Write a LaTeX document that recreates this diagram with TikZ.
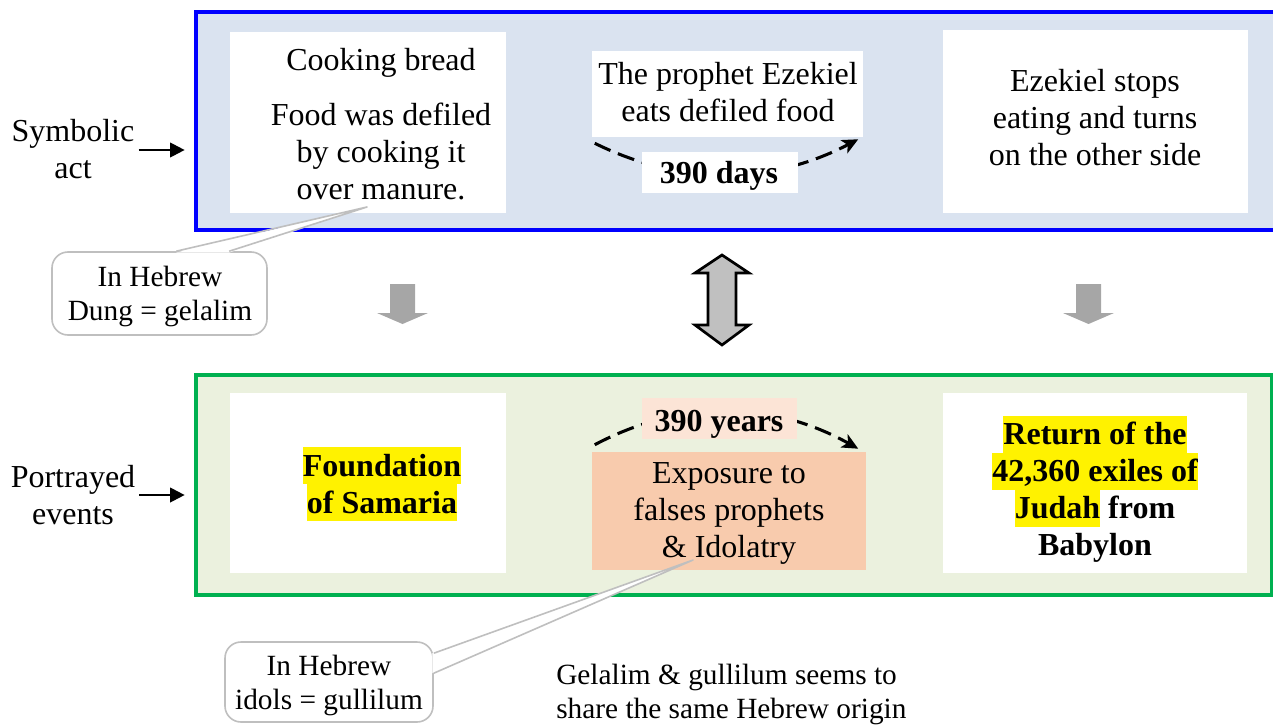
\documentclass[tikz,border=0pt]{standalone}
\usepackage{fontspec}
\setmainfont{Liberation Serif}
\usetikzlibrary{arrows.meta,calc}
\definecolor{bluefill}{HTML}{DAE3F0}
\definecolor{blueline}{HTML}{0000FF}
\definecolor{greenfill}{HTML}{EBF1DE}
\definecolor{greenline}{HTML}{00B050}
\definecolor{peach}{HTML}{F8CBAD}
\definecolor{lightpeach}{HTML}{FCE4D6}
\definecolor{arrowgray}{HTML}{A6A6A6}
\definecolor{dblgray}{HTML}{C0C0C0}
\definecolor{calloutgray}{HTML}{BFBFBF}
\newcommand\hlt[1]{{\setlength\fboxsep{0pt}\colorbox{yellow}{\rule[-6pt]{0pt}{27.75pt}#1}}}
\begin{document}
\begin{tikzpicture}[x=0.75pt,y=-0.75pt,
  bigtext/.style={font=\fontsize{24}{27.75}\selectfont, align=center, inner sep=0pt},
  smalltext/.style={font=\fontsize{22}{25.5}\selectfont, align=center, inner sep=0pt},
  panelbox/.style={draw, line width=3pt, inner sep=0pt},
  whitebox/.style={fill=white, inner sep=0pt},
  calloutbox/.style={draw=calloutgray, line width=1.2pt, fill=white, rounded corners=12pt, inner sep=0pt},
  calloutline/.style={draw=calloutgray, line width=1.2pt, line join=round},
  dasharrow/.style={line width=2.3pt, dash pattern=on 13pt off 6pt, -{Stealth[length=12pt,width=11pt,inset=3pt]}},
  labelarrow/.style={line width=1.6pt, -{Triangle[length=11pt,width=11pt]}},
  blockarrow/.style={fill=arrowgray},
  dblarrow/.style={fill=dblgray, draw=black, line width=2pt, line join=miter}]
\useasboundingbox (0,0) rectangle (1273,724);
\clip (0,0) rectangle (1273,724);

% panels
\node[panelbox, draw=blueline, fill=bluefill, minimum width=820.5pt, minimum height=163.5pt] (blue) at (743,121) {};
\node[panelbox, draw=greenline, fill=greenfill, minimum width=807pt, minimum height=165pt] (green) at (734,485) {};

% top boxes
\node[whitebox, minimum width=207pt, minimum height=135.75pt] (b1) at (368,122.5) {};
\node[whitebox, minimum width=203.25pt, minimum height=64.5pt] (b2) at (727.5,94) {};
\node[whitebox, minimum width=228.75pt, minimum height=137.25pt] (b3) at (1095.5,121.5) {};

% bottom boxes
\node[whitebox, minimum width=207pt, minimum height=135pt] (b4) at (368,483) {};
\node[fill=peach, inner sep=0pt, minimum width=205.5pt, minimum height=88.5pt] (b5) at (729,511) {};
\node[whitebox, minimum width=228pt, minimum height=135pt] (b6) at (1095,483) {};

% dashed arcs
\draw[dasharrow] ($(b2.south west)+(3,6)$) .. controls +(85,42) and +(-88,46) .. ($(b2.south east)+(-5,2)$);
\draw[dasharrow] ($(b5.north west)+(3,-7)$) .. controls +(85,-45) and +(-88,-49) .. ($(b5.north east)+(-8,-3)$);

% duration labels
\node[whitebox, minimum width=117pt, minimum height=30.75pt] (days) at (720,172.5) {};
\node[bigtext, font=\fontsize{24}{27.75}\selectfont\bfseries] (daystext) at (719,176) {390 days};
\node[fill=lightpeach, inner sep=0pt, minimum width=116.25pt, minimum height=30.75pt] (years) at (719.5,418.5) {};
\node[bigtext, font=\fontsize{24}{27.75}\selectfont\bfseries] (yearstext) at (719,424) {390 years};

% texts in top boxes
\node[bigtext] (t1a) at (381,63) {Cooking bread};
\node[bigtext] (t1b) at (381,151) {Food was defiled\\by cooking it\\over manure.};
\node[bigtext] (t2) at (728,92) {The prophet Ezekiel\\eats defiled food};
\node[bigtext] (t3) at (1095,118) {Ezekiel stops\\eating and turns\\on the other side};

% texts in bottom boxes
\node[bigtext, font=\fontsize{24}{27.75}\selectfont\bfseries] (t4) at (382,484) {\hlt{Foundation}\\\hlt{of Samaria}};
\node[bigtext] (t5) at (729,513) {Exposure to\\falses prophets\\\& Idolatry};
\node[bigtext, font=\fontsize{24}{27.75}\selectfont\bfseries] (t6) at (1095,489) {\hlt{Return of the}\\\hlt{42,360 exiles of}\\\hlt{Judah} from\\Babylon};

% side labels
\node[bigtext] (sym) at (73,149) {Symbolic\\act};
\node[bigtext] (por) at (73,495) {Portrayed\\events};
\draw[labelarrow] ([xshift=3pt]sym.east |- 0,150) -- ([xshift=-7pt]blue.west |- 0,150);
\draw[labelarrow] ([xshift=3pt]por.east |- 0,495) -- ([xshift=-7pt]green.west |- 0,495);

% gray down arrows
\fill[blockarrow] (390,284) -- (415,284) -- (415,313) -- (428,313) -- (402.5,324) -- (377,313) -- (390,313) -- cycle;
\fill[blockarrow] (1076,284) -- (1101,284) -- (1101,313) -- (1114,313) -- (1088.5,324) -- (1063,313) -- (1076,313) -- cycle;

% double arrow
\draw[dblarrow] (722,255) -- (749,273) -- (736,273) -- (736,325) -- (749,325) -- (722,345) -- (695,325) -- (708,325) -- (708,273) -- (695,273) -- cycle;

% callout 1
\node[calloutbox, minimum width=161.25pt, minimum height=62.25pt] (c1) at (159.5,293.5) {};
\coordinate (c1a) at ($(c1.north west)+(125,0)$);
\coordinate (c1b) at ($(c1.north west)+(178,0)$);
\coordinate (c1tip) at (367,207);
\fill[white] ([yshift=-1pt]c1a) -- (c1tip) -- ([yshift=-1pt]c1b) -- cycle;
\draw[calloutline] (c1a) -- (c1tip) -- (c1b);
\node[smalltext] (c1t) at (160,296) {In Hebrew\\Dung = gelalim};

% callout 2
\node[calloutbox, minimum width=156pt, minimum height=60pt] (c2) at (329,682) {};
\coordinate (c2a) at ($(c2.north east)+(0,12)$);
\coordinate (c2b) at ($(c2.north east)+(0,32)$);
\coordinate (c2tip) at (693,560);
\fill[white] ([xshift=-1pt]c2a) -- (c2tip) -- ([xshift=-1pt]c2b) -- cycle;
\draw[calloutline] (c2a) -- (c2tip) -- (c2b);
\node[smalltext] (c2t) at (329,685) {In Hebrew\\idols = gullilum};

% note
\node[smalltext, align=left, anchor=west] (note) at (556,694) {Gelalim \& gullilum seems to\\share the same Hebrew origin};
\end{tikzpicture}
\end{document}
